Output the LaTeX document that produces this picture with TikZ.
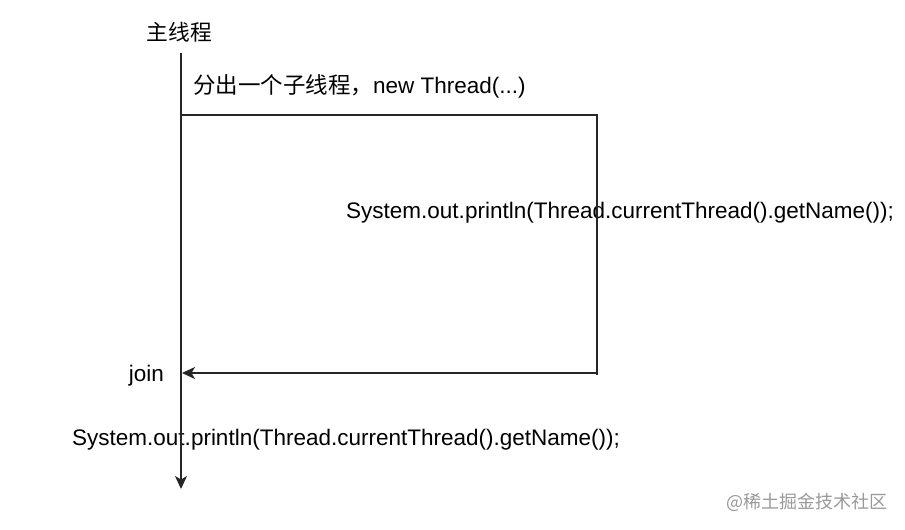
\documentclass[tikz,border=0pt]{standalone}
\usepackage{fontspec}
\setmainfont{Liberation Sans}
\newfontfamily\cjk{Noto Sans CJK SC}
\usetikzlibrary{arrows.meta}
\begin{document}
\begin{tikzpicture}[x=1pt,y=-1pt,
  lbl/.style={inner sep=0pt,font=\fontsize{22.5}{26}\selectfont},
  ln/.style={line width=1.3pt,black!85},
  arr/.style={ln,-{Stealth[length=13pt,width=12pt,inset=3.5pt]}}]
\useasboundingbox (0,0) rectangle (905,530);
\node[lbl,font=\fontsize{21.7}{26}\selectfont] (main) at (179.5,32) {\cjk 主线程};
\node[lbl,anchor=west] (fork) at (193,86.5) {\cjk 分出一个子线程，\rmfamily new Thread(...)};
\node[lbl,anchor=west] (p1) at (346,212.5) {System.out.println(Thread.currentThread().getName());};
\node[lbl,anchor=east] (join) at (164,375.5) {join};
\node[lbl,anchor=west] (p2) at (72,439.5) {System.out.println(Thread.currentThread().getName());};
\node[inner sep=0pt,font=\fontsize{18}{20}\selectfont\cjk,text=black!40] (wm) at (807,502) {@稀土掘金技术社区};
\coordinate (top) at (181,53);
\coordinate (bot) at (181,489);
\coordinate (f0) at (181,115);
\coordinate (f1) at (597,115);
\coordinate (j1) at (597,375);
\coordinate (j0) at (597,373);
\coordinate (jt) at (182,373);
\draw[arr] (top) -- (bot);
\draw[ln] (f0) -- (f1) -- (j1);
\draw[arr] (j0) -- (jt);
\end{tikzpicture}
\end{document}
